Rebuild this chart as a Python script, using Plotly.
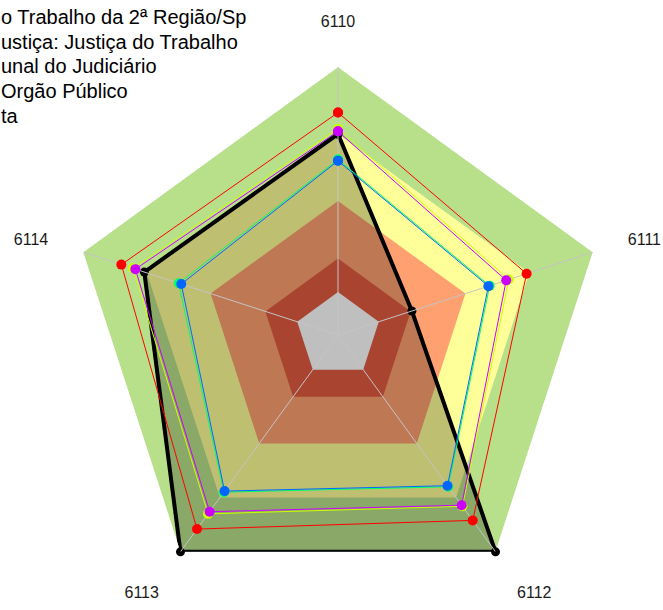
import plotly.graph_objects as go

# Axes of the radar
categories = ["6110", "6111", "6112", "6113", "6114"]

# Reference bands, outermost first (fraction of the scale)
band_levels = [1.0, 0.75, 0.5, 0.285, 0.16]
band_colors = ["#B8E08A", "#FFFF99", "#FFA070", "#E05B40", "#FFFFFF"]

# Comparison series
series_names = [
    "o Trabalho da 2ª Região/Sp",
    "ustiça: Justiça do Trabalho",
    "unal do Judiciário",
    "Orgão Público",
    "ta",
]
series_colors = ["#FF0000", "#CCFF00", "#00FF66", "#0066FF", "#CC00FF"]
series_values = [
    [0.83, 0.74, 0.855, 0.895, 0.85],
    [0.77, 0.67, 0.79, 0.825, 0.805],
    [0.655, 0.595, 0.70, 0.725, 0.625],
    [0.65, 0.59, 0.695, 0.72, 0.615],
    [0.76, 0.66, 0.785, 0.815, 0.795],
]

# Highlighted unit
unit_values = [0.75, 0.29, 1.0, 1.0, 0.76]

FONT = "Liberation Sans, Arial, sans-serif"
W, H = 663, 610


def closed(values):
    return list(values) + [values[0]]


theta_closed = closed(categories)

fig = go.Figure()

# Coloured reference bands
for level, color in zip(band_levels, band_colors):
    fig.add_trace(go.Scatterpolar(
        r=closed([level] * len(categories)),
        theta=theta_closed,
        mode="lines",
        line=dict(width=0, color=color),
        fill="toself",
        fillcolor=color,
        hoverinfo="skip",
        showlegend=False,
    ))

# Highlighted unit, translucent dark fill
fig.add_trace(go.Scatterpolar(
    r=closed(unit_values),
    theta=theta_closed,
    mode="lines+markers",
    line=dict(color="#000000", width=4),
    marker=dict(color="#000000", size=9),
    fill="toself",
    fillcolor="rgba(0,0,0,0.25)",
    showlegend=False,
))

# Spokes
spoke_r, spoke_t = [], []
for c in categories:
    spoke_r += [0, 1, None]
    spoke_t += [c, c, None]
fig.add_trace(go.Scatterpolar(
    r=spoke_r,
    theta=spoke_t,
    mode="lines",
    line=dict(color="#C4C4C4", width=1),
    hoverinfo="skip",
    showlegend=False,
    connectgaps=False,
))

# Comparison series
for name, color, vals in zip(series_names, series_colors, series_values):
    fig.add_trace(go.Scatterpolar(
        r=closed(vals),
        theta=theta_closed,
        name=name,
        mode="lines+markers",
        line=dict(color=color, width=1),
        marker=dict(color=color, size=10),
        showlegend=False,
    ))

# Series key, running off the left edge
legend_notes = []
for i, name in enumerate(series_names):
    legend_notes.append(dict(
        text=name,
        xref="paper", yref="paper",
        x=0, y=1 - (17 + 24.7 * i) / H,
        xanchor="left", yanchor="middle",
        showarrow=False,
        borderpad=0,
        font=dict(family=FONT, size=20, color="#000000"),
    ))

fig.update_layout(
    width=W,
    height=H,
    margin=dict(l=0, r=0, t=0, b=0, autoexpand=False),
    paper_bgcolor="white",
    plot_bgcolor="white",
    font=dict(family=FONT, color="#000000"),
    showlegend=False,
    annotations=legend_notes,
    polar=dict(
        domain=dict(x=[70 / W, 606 / W], y=[7 / H, 543 / H]),
        gridshape="linear",
        bgcolor="rgba(0,0,0,0)",
        radialaxis=dict(range=[0, 1], visible=False),
        angularaxis=dict(
            direction="clockwise",
            rotation=90,
            showgrid=False,
            showline=False,
            ticks="outside",
            ticklen=33,
            tickcolor="rgba(0,0,0,0)",
            tickfont=dict(family=FONT, size=16, color="#1a1a1a"),
        ),
    ),
)

fig.write_html("out.html")
